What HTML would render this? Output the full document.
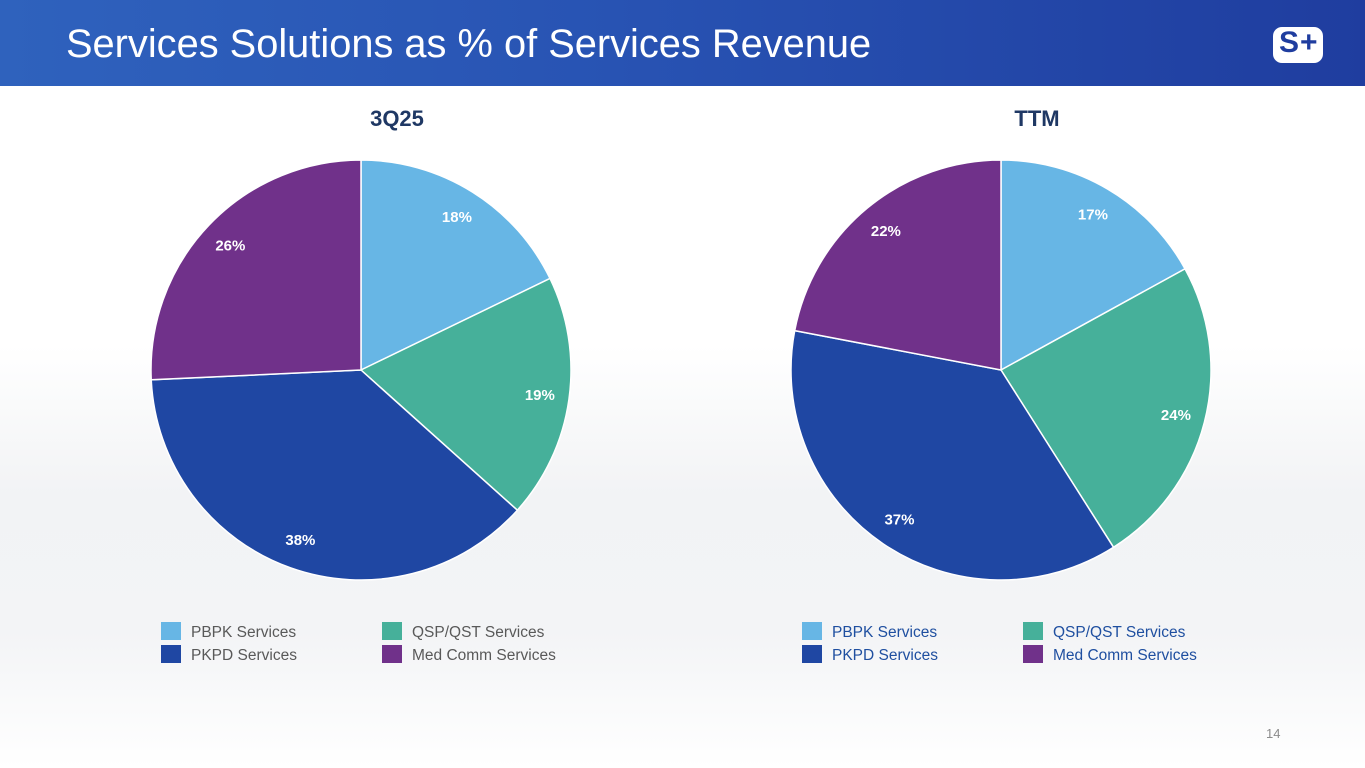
<!DOCTYPE html>
<html><head><meta charset="utf-8">
<style>
body{margin:0;width:1365px;height:768px;overflow:hidden;font-family:"Liberation Sans","DejaVu Sans",sans-serif;background:#fff;position:relative}
#bg{position:absolute;left:0;top:86px;width:1365px;height:682px;background:linear-gradient(180deg,#fff 0%,#fff 38%,#f2f3f5 60%,#f3f4f6 80%,#fff 100%)}
#header{position:absolute;left:0;top:0;width:1365px;height:86px;background:linear-gradient(90deg,#2f62bd 0%,#2853b3 45%,#1f3d9f 100%)}
#title{position:absolute;left:66px;top:22px;color:#fff;font-size:39.8px;white-space:nowrap}
#logo{position:absolute;left:1273px;top:27px;width:50px;height:36px;background:#fff;border-radius:9px}
#logo span{position:absolute;top:-1px;font-weight:bold;font-size:30px;color:#1f3d9f}
svg{position:absolute;left:0;top:0}
.ctitle{font-weight:bold;font-size:22px;fill:#1f3864}
.lbl{font-weight:bold;font-size:15px;fill:#fff}
.lg{font-size:15.5px}
#pn{position:absolute;left:1266px;top:726px;color:#8c8c8c;font-size:13px}
</style></head><body>
<div id="bg"></div>
<div id="header">
<div id="title">Services Solutions as % of Services Revenue</div>
<div id="logo"><span style="left:6px">S</span><span style="left:27px">+</span></div>
</div>
<svg id="chart" width="1365" height="768"></svg>
<div id="pn">14</div>
<script>
const categories=["PBPK Services","QSP/QST Services","PKPD Services","Med Comm Services"];
const colors=["#67b6e5","#46b09a","#1f47a3","#70318a"];
const valuesQ=[18,19,38,26];
const valuesT=[17,24,37,22];
const titles=["3Q25","TTM"];
const NS="http://www.w3.org/2000/svg";
const svg=document.getElementById('chart');
function mk(t,a){const e=document.createElementNS(NS,t);for(const k in a)e.setAttribute(k,a[k]);svg.appendChild(e);return e;}
function pie(vals,cx,cy,r,title,legX,legColor,key){
  const t=mk('text',{x:cx+36,y:126,'text-anchor':'middle',class:'ctitle'});t.textContent=title;
  
  
  const tot=vals.reduce((a,b)=>a+b,0);let a0=0;
  vals.forEach((v,i)=>{
    const a1=a0+v/tot*2*Math.PI;
    const p=(a)=>[cx+r*Math.sin(a),cy-r*Math.cos(a)];
    const [x0,y0]=p(a0),[x1,y1]=p(a1);
    const path=mk('path',{d:`M${cx},${cy}L${x0},${y0}A${r},${r} 0 ${a1-a0>Math.PI?1:0} 1 ${x1},${y1}Z`,fill:colors[i],stroke:'#fff','stroke-width':1.5});
    
    
    const am=(a0+a1)/2,lr=r*0.86;
    const l=mk('text',{x:cx+lr*Math.sin(am),y:cy-lr*Math.cos(am)+5,'text-anchor':'middle',class:'lbl'});
    l.textContent=v+'%';
    
    
    a0=a1;
  });
  categories.forEach((c,i)=>{
    const x=legX+(i%2)*221,y=622+Math.floor(i/2)*23;
    const s=mk('rect',{x:x,y:y,width:20,height:18,fill:colors[i]});
    
    
    const tx=mk('text',{x:x+30,y:y+15,class:'lg',fill:legColor});tx.textContent=c;
    
    
  });
}
pie(valuesQ,361,370,210,titles[0],161,'#595959','q3');
pie(valuesT,1001,370,210,titles[1],802,'#1f4fa0','ttm');
</script>
</body></html>
